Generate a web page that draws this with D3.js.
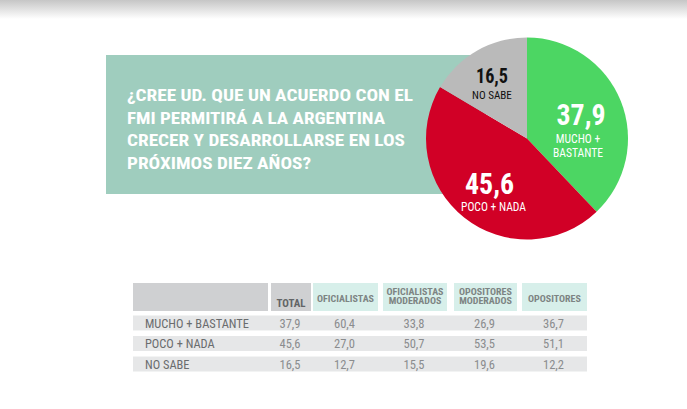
<!DOCTYPE html>
<html>
<head>
<meta charset="utf-8">
<script src="https://d3js.org/d3.v7.min.js"></script>
<style>
  body { margin: 0; background: #fff; }
  svg { display: block; font-family: "Roboto Condensed", "Liberation Sans Narrow", "Arial Narrow", Roboto, sans-serif; }
</style>
</head>
<body>
<div id="chart"></div>
<script>
// DATA
var question = [
  "¿CREE UD. QUE UN ACUERDO CON EL",
  "FMI PERMITIRÁ A LA ARGENTINA",
  "CRECER Y DESARROLLARSE EN LOS",
  "PRÓXIMOS DIEZ AÑOS?"
];
var answers = ["MUCHO + BASTANTE", "POCO + NADA", "NO SABE"];
var pieLabels = [["MUCHO +", "BASTANTE"], ["POCO + NADA"], ["NO SABE"]];
var totals = [37.9, 45.6, 16.5];
var groups = ["TOTAL", "OFICIALISTAS", "OFICIALISTAS MODERADOS", "OPOSITORES MODERADOS", "OPOSITORES"];
var groupLabels = [["TOTAL"], ["OFICIALISTAS"], ["OFICIALISTAS", "MODERADOS"], ["OPOSITORES", "MODERADOS"], ["OPOSITORES"]];
var values = [
  [37.9, 60.4, 33.8, 26.9, 36.7],
  [45.6, 27.0, 50.7, 53.5, 51.1],
  [16.5, 12.7, 15.5, 19.6, 12.2]
];

(function () {
  var width = 687, height = 409;
  var fmt = function (v) { return d3.format(".1f")(v).replace(".", ","); };

  var svg = d3.select("#chart").append("svg")
    .attr("width", width)
    .attr("height", height);

  // stretch/squeeze a group of texts so that one sample string gets the width seen in the picture
  function fit(sel, sample, target) {
    var k = 1;
    sel.each(function () {
      if (this.textContent === sample) k = target / this.getComputedTextLength();
    });
    sel.each(function () {
      var w = this.getComputedTextLength();
      d3.select(this).attr("textLength", w * k).attr("lengthAdjust", "spacingAndGlyphs");
    });
  }

  // top shadow
  var grad = svg.append("defs").append("linearGradient")
    .attr("id", "topfade").attr("x1", 0).attr("y1", 0).attr("x2", 0).attr("y2", 1);
  grad.append("stop").attr("offset", "0%").attr("stop-color", "#c6c6c6");
  grad.append("stop").attr("offset", "100%").attr("stop-color", "#ffffff");
  svg.append("rect").attr("width", width).attr("height", 19).attr("fill", "url(#topfade)");

  // QUESTION BOX
  svg.append("rect")
    .attr("x", 106).attr("y", 55)
    .attr("width", 380).attr("height", 139)
    .attr("fill", "#9fcdbe");

  var lineWidths = [286, 258, 278, 184];
  svg.append("g").selectAll("text")
    .data(question)
    .enter().append("text")
    .attr("x", 127)
    .attr("y", function (d, i) { return 101 + i * 22.7; })
    .attr("fill", "#fff")
    .attr("font-weight", "bold")
    .attr("font-size", 17)
    .attr("textLength", function (d, i) { return lineWidths[i]; })
    .attr("lengthAdjust", "spacingAndGlyphs")
    .text(function (d) { return d; });

  // PIE
  var cx = 527, cy = 138.5, r = 101;
  var colors = d3.scaleOrdinal().domain(answers).range(["#4cd663", "#d10026", "#bababa"]);
  var pie = d3.pie().sort(null).value(function (d) { return d; });
  var arc = d3.arc().innerRadius(0).outerRadius(r);
  var arcs = pie(totals);

  var gp = svg.append("g").attr("transform", "translate(" + cx + "," + cy + ")");
  gp.selectAll("path")
    .data(arcs)
    .enter().append("path")
    .attr("d", arc)
    .attr("fill", function (d, i) { return colors(answers[i]); });

  // label placement (offsets from the centre, per slice)
  var labelPos = [[54, -13.5], [-37.5, 55.5], [-35, -55.5]];
  var bigSize = [29, 29, 21];
  var subGap = [18, 17, 16];
  var lab = gp.selectAll(".plab")
    .data(arcs)
    .enter().append("g")
    .attr("class", "plab")
    .attr("transform", function (d, i) { return "translate(" + labelPos[i][0] + "," + labelPos[i][1] + ")"; });

  var big = lab.append("text")
    .attr("text-anchor", "middle")
    .attr("font-weight", "bold")
    .attr("font-size", function (d, i) { return bigSize[i]; })
    .attr("fill", function (d, i) { return i === 2 ? "#111" : "#fff"; })
    .text(function (d) { return fmt(d.value); });
  fit(big.filter(function (d, i) { return i < 2; }), "37,9", 49);
  fit(big.filter(function (d, i) { return i === 2; }), "16,5", 32);

  lab.each(function (d, i) {
    d3.select(this).selectAll(".sub")
      .data(pieLabels[i])
      .enter().append("text")
      .attr("class", "sub")
      .attr("text-anchor", "middle")
      .attr("dx", i === 1 ? 4 : (i === 0 ? -3 : 0))
      .attr("y", function (s, j) { return subGap[i] + j * 14; })
      .attr("font-size", i === 2 ? 11.5 : 12)
      .attr("fill", i === 2 ? "#111" : "#fff")
      .text(function (s) { return s; });
  });
  fit(gp.selectAll(".sub"), "POCO + NADA", 65);

  // TABLE
  var colEdges = [[133, 268], [271, 311], [313, 378], [383, 447], [454, 517], [522, 587]];
  var y = d3.scaleBand().domain(answers).range([315.5, 371.5]).paddingInner(0.27);

  var gt = svg.append("g");

  gt.selectAll(".hcell")
    .data([""].concat(groups))
    .enter().append("rect")
    .attr("class", "hcell")
    .attr("x", function (d, i) { return colEdges[i][0]; })
    .attr("y", 283)
    .attr("width", function (d, i) { return colEdges[i][1] - colEdges[i][0]; })
    .attr("height", 28)
    .attr("fill", function (d, i) { return i < 2 ? "#cfd0d2" : "#d7efea"; });

  gt.selectAll(".htext")
    .data(groupLabels)
    .enter().append("g")
    .attr("class", "htext")
    .each(function (lines, i) {
      var c = colEdges[i + 1];
      var base = i === 0 ? 307 : (lines.length === 1 ? 302 : 294.5);
      d3.select(this).selectAll("text")
        .data(lines)
        .enter().append("text")
        .attr("class", i === 0 ? "htotal" : "hgroup")
        .attr("x", (c[0] + c[1]) / 2)
        .attr("y", function (s, j) { return base + j * 9.5; })
        .attr("text-anchor", "middle")
        .attr("font-weight", "bold")
        .attr("font-size", i === 0 ? 11 : 9.5)
        .attr("fill", i === 0 ? "#626466" : "#7d8483")
        .text(function (s) { return s; });
    });
  fit(gt.selectAll(".htotal"), "TOTAL", 29);
  fit(gt.selectAll(".hgroup"), "OFICIALISTAS", 57);

  var rows = gt.selectAll(".row")
    .data(answers)
    .enter().append("g")
    .attr("class", "row")
    .attr("transform", function (d) { return "translate(0," + y(d) + ")"; });

  rows.append("rect")
    .attr("x", colEdges[0][0])
    .attr("width", colEdges[5][1] - colEdges[0][0])
    .attr("height", y.bandwidth())
    .attr("fill", "#e6e7e8");

  var rlab = rows.append("text")
    .attr("class", "rlab")
    .attr("x", 145)
    .attr("y", y.bandwidth() - 2.5)
    .attr("font-size", 13)
    .attr("fill", "#6a6c6e")
    .text(function (d) { return d; });
  fit(rlab, "MUCHO + BASTANTE", 104);

  rows.each(function (d, r) {
    d3.select(this).selectAll(".val")
      .data(values[r])
      .enter().append("text")
      .attr("class", "val")
      .attr("x", function (v, i) { return (colEdges[i + 1][0] + colEdges[i + 1][1]) / 2 - 1; })
      .attr("y", y.bandwidth() - 2.5)
      .attr("text-anchor", "middle")
      .attr("font-size", 12.5)
      .attr("fill", "#8a8c8e")
      .text(function (v) { return fmt(v); });
  });
  fit(gt.selectAll(".val"), "37,9", 21);
})();
</script>
</body>
</html>
